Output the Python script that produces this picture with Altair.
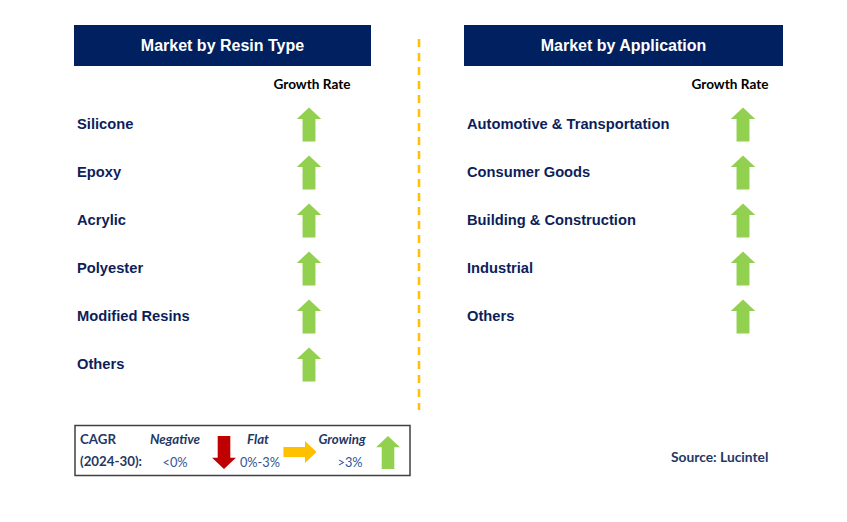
import altair as alt
import pandas as pd

# ---------------- data ----------------
panel_titles = ["Market by Resin Type", "Market by Application"]
column_header = "Growth Rate"

resin_types = ["Silicone", "Epoxy", "Acrylic", "Polyester", "Modified Resins", "Others"]
resin_growth = ["Growing", "Growing", "Growing", "Growing", "Growing", "Growing"]

applications = ["Automotive & Transportation", "Consumer Goods",
                "Building & Construction", "Industrial", "Others"]
application_growth = ["Growing", "Growing", "Growing", "Growing", "Growing"]

legend_title = ["CAGR", "(2024-30):"]
legend_levels = ["Negative", "Flat", "Growing"]
legend_ranges = ["<0%", "0%-3%", ">3%"]
level_colors = ["#C00000", "#FFC000", "#92D050"]
source_text = "Source: Lucintel"

# ---------------- styling / layout ----------------
NAVY = "#002060"
LABEL = "#0D1E5B"
W, H = 831, 506
UP = "M0,-1L0.72,-0.32L0.38,-0.32L0.38,1L-0.38,1L-0.38,-0.32L-0.72,-0.32Z"
DOWN = "M0,1L0.72,0.32L0.38,0.32L0.38,-1L-0.38,-1L-0.38,0.32L-0.72,0.32Z"
RIGHT = "M1,0L0.3,-0.66L0.3,-0.3L-1,-0.3L-1,0.3L0.3,0.3L0.3,0.66Z"

xs = alt.Scale(domain=[8, 8 + W], nice=False, zero=False)
ys = alt.Scale(domain=[8, 8 + H], nice=False, zero=False, reverse=True)
X = lambda f: alt.X(f, type="quantitative", scale=xs, axis=None)
Y = lambda f: alt.Y(f, type="quantitative", scale=ys, axis=None)
shape_scale = alt.Scale(domain=legend_levels, range=[DOWN, RIGHT, UP])
color_scale = alt.Scale(domain=legend_levels, range=level_colors)

# header boxes
hdr = pd.DataFrame({
    "title": panel_titles,
    "x0": [74, 464], "x1": [371, 783],
    "y0": [25, 25], "y1": [66, 66],
})
hdr["xc"] = (hdr.x0 + hdr.x1) / 2
hdr["yc"] = (hdr.y0 + hdr.y1) / 2 + 0.5

boxes = alt.Chart(hdr).mark_rect(color=NAVY).encode(
    x=X("x0"), x2="x1", y=Y("y0"), y2="y1")
box_text = alt.Chart(hdr).mark_text(
    font="Liberation Sans", fontWeight="bold", fontSize=16, color="white",
    align="center", baseline="middle").encode(x=X("xc"), y=Y("yc"), text="title:N")

gr = pd.DataFrame({"t": [column_header, column_header], "x": [312, 730], "y": [85, 85]})
gr_text = alt.Chart(gr).mark_text(
    font="Lato", fontWeight="bold", fontSize=13.6, color="black",
    align="center", baseline="middle").encode(x=X("x"), y=Y("y"), text="t:N")

# rows
rows = pd.concat([
    pd.DataFrame({"label": resin_types, "growth": resin_growth,
                  "lx": 77, "ax": 309,
                  "y": [124.5 + 48 * i for i in range(len(resin_types))]}),
    pd.DataFrame({"label": applications, "growth": application_growth,
                  "lx": 467, "ax": 743,
                  "y": [124.5 + 48 * i for i in range(len(applications))]}),
], ignore_index=True)
rows["ay"] = rows["y"]

row_text = alt.Chart(rows).mark_text(
    font="Liberation Sans", fontWeight="bold", fontSize=14.7, color=LABEL,
    align="left", baseline="middle").encode(x=X("lx"), y=Y("y"), text="label:N")
row_arrows = alt.Chart(rows).mark_point(filled=True, opacity=1, strokeWidth=0, size=1156).encode(
    x=X("ax"), y=Y("ay"),
    shape=alt.Shape("growth:N", scale=shape_scale, legend=None),
    color=alt.Color("growth:N", scale=color_scale, legend=None))

# divider
div = pd.DataFrame({"x": [419], "y0": [39], "y1": [410]})
divider = alt.Chart(div).mark_rule(color="#FFC000", strokeWidth=2.5, strokeDash=[8, 6]).encode(
    x=X("x"), y=Y("y0"), y2="y1")

# legend box
lb = pd.DataFrame({"x0": [75], "x1": [410], "y0": [425.5], "y1": [475.5]})
legend_box = alt.Chart(lb).mark_rect(fill="white", stroke="#404040", strokeWidth=1.5).encode(
    x=X("x0"), x2="x1", y=Y("y0"), y2="y1")

lt = pd.DataFrame({"t": legend_title, "x": [80, 80], "y": [440, 462]})
legend_title_text = alt.Chart(lt).mark_text(
    font="Lato", fontWeight="bold", fontSize=13.3, color="#1F3864",
    align="left", baseline="middle").encode(x=X("x"), y=Y("y"), text="t:N")

lv = pd.DataFrame({"level": legend_levels, "rng": legend_ranges,
                   "x": [175, 258, 342], "rx": [175, 260, 350],
                   "ax": [224, 300, 388], "ay": [452.5, 452, 452.5]})
lv["ly"] = 440
lv["ry"] = 463
level_text = alt.Chart(lv).mark_text(
    font="Lato", fontWeight="bold", fontStyle="italic", fontSize=13.3, color="#1F3864",
    align="center", baseline="middle").encode(x=X("x"), y=Y("ly"), text="level:N")
range_text = alt.Chart(lv).mark_text(
    font="Lato", fontSize=12.8, color="#2F5597",
    align="center", baseline="middle").encode(x=X("rx"), y=Y("ry"), text="rng:N")
legend_arrows = alt.Chart(lv).mark_point(filled=True, opacity=1, strokeWidth=0, size=1100).encode(
    x=X("ax"), y=Y("ay"),
    shape=alt.Shape("level:N", scale=shape_scale, legend=None),
    color=alt.Color("level:N", scale=color_scale, legend=None))

src = pd.DataFrame({"t": [source_text], "x": [671], "y": [458]})
src_text = alt.Chart(src).mark_text(
    font="Lato", fontWeight="bold", fontSize=13.8, color="#1F3864",
    align="left", baseline="middle").encode(x=X("x"), y=Y("y"), text="t:N")

chart = alt.layer(
    boxes, box_text, gr_text, row_text, row_arrows, divider,
    legend_box, legend_title_text, level_text, range_text, legend_arrows, src_text,
).properties(
    width=W, height=H, padding=0,
    autosize=alt.AutoSizeParams(type="none"),
).configure_view(stroke=None).resolve_scale(shape="shared", color="shared")

chart.save("out.html", embed_options={"renderer": "svg", "actions": False})
